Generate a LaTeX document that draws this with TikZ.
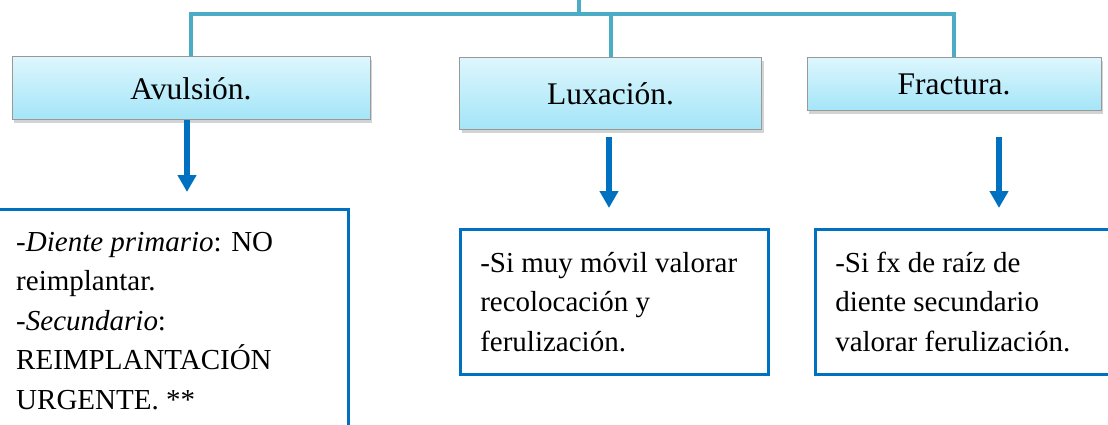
\documentclass[tikz,border=0pt]{standalone}
\usepackage{fontspec}
\setmainfont{Liberation Serif}
\usetikzlibrary{arrows.meta,shadows}
\definecolor{rama}{HTML}{4BACC6}
\definecolor{azul}{HTML}{0070C0}
\definecolor{celesteA}{HTML}{DDF6FD}
\definecolor{celesteB}{HTML}{A3E5F8}
\tikzset{
  tipo/.style={draw=gray!80,line width=1pt,top color=celesteA,bottom color=celesteB,
    drop shadow={shadow xshift=2pt,shadow yshift=-3pt,opacity=0.35},
    font=\fontsize{31.5}{36}\selectfont},
  nota/.style={draw=azul,line width=2.5pt,fill=white,anchor=north west,align=flush left,
    inner xsep=20pt,text width=#1,font=\fontsize{29}{39.5}\selectfont},
  conector/.style={rama,line width=4pt},
  flecha/.style={azul,line width=6pt,-{Triangle[width=18pt,length=17pt]}}
}
\begin{document}
\begin{tikzpicture}[x=1pt,y=-1pt]
\useasboundingbox (0,0) rectangle (1108,425);
\clip (0,0) rectangle (1108,425);

\node[tipo,minimum width=358,minimum height=63] (avul) at (191,88.5) {Avulsión.};
\node[tipo,minimum width=302,minimum height=72] (lux) at (610.5,94) {Luxación.};
\node[tipo,minimum width=294,minimum height=53] (frac) at (954,84.5) {Fractura.};

\node[nota=312,minimum height=223] (avulT) at (-5,208)
  {-\textit{Diente primario}: NO\\reimplantar.\\-\textit{Secundario}:\\REIMPLANTACIÓN\\URGENTE. **};
\node[nota=268,minimum height=145] (luxT) at (459,228)
  {-Si muy móvil valorar\\recolocación y\\ferulización.};
\node[nota=290,minimum height=145] (fracT) at (814,228)
  {-Si fx de raíz de\\diente secundario\\valorar ferulización.};

\coordinate (raiz) at (579,0);
\coordinate (bus) at (579,14);
\draw[conector] (raiz) -- (bus);
\draw[conector] (avul.north) |- (bus) -| (frac.north);
\draw[conector] (lux.north) -- (lux.north |- bus);

\coordinate (sa) at ([xshift=-4pt]avul.south);
\coordinate (sl) at ([xshift=-1.5pt]lux.south);
\coordinate (sf) at ([xshift=45pt]frac.south);
\draw[flecha,shorten >=16pt] (sa) -- (sa |- avulT.north);
\draw[flecha,shorten <=7pt,shorten >=20pt] (sl) -- (sl |- luxT.north);
\draw[flecha,shorten <=26pt,shorten >=20pt] (sf) -- (sf |- fracT.north);
\end{tikzpicture}
\end{document}
